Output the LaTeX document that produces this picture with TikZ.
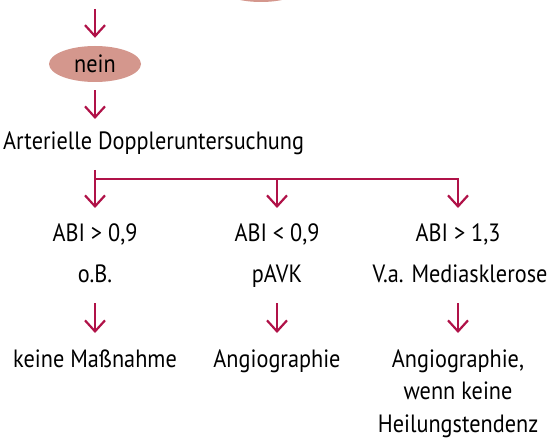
\documentclass[tikz,border=0pt]{standalone}
\usepackage{fontspec}
\setmainfont[FakeStretch=0.89]{PT Sans}
\usetikzlibrary{arrows.meta,shapes.geometric}

\definecolor{weinrot}{RGB}{176,18,72}
\definecolor{lachs}{RGB}{212,151,141}

\tikzset{
  oval/.style={ellipse, fill=lachs, minimum width=92pt, minimum height=36pt, inner sep=0pt},
  pfeil/.style={draw=weinrot, line width=2.2pt, -{Straight Barb[length=11pt, width=20pt]}},
  txt/.style={anchor=base, inner sep=0pt, font=\fontsize{25}{32.5}\selectfont}
}

\begin{document}
\begin{tikzpicture}[x=1pt, y=-1pt]
\useasboundingbox (0,0) rectangle (554,438);
\clip (0,0) rectangle (554,438);

\node [oval] (ja) at (261,-16) {};
\node [oval, font=\fontsize{25}{33}\selectfont] (nein) at (95,64) {nein};
\node [txt, anchor=base west] (doppler) at (3,150) {Arterielle Doppleruntersuchung};

\node [txt] (abi1) at (95,242) {ABI > 0,9};
\node [txt] (abi2) at (277,242) {ABI < 0,9};
\node [txt] (abi3) at (458,242) {ABI > 1,3};
\node [txt] (ob) at (95,283) {o.B.};
\node [txt] (pavk) at (277,283) {pAVK};
\node [txt] (media) at (460,283) {V.a. Mediasklerose};
\node [txt] (keine) at (95,367) {keine Maßnahme};
\node [txt] (angio) at (277,367) {Angiographie};
\node [txt, align=center] (angio2) at (458,432) {Angiographie,\\wenn keine\\Heilungstendenz};

\coordinate (s0) at (95,9);
\coordinate (s1) at (95,119);
\coordinate (b0) at (95,170);
\coordinate (b1) at (95,179);
\coordinate (b2) at (277,179);
\coordinate (b3) at (458,179);
\coordinate (t1) at (95,208);
\coordinate (t2) at (277,208);
\coordinate (t3) at (458,208);

\draw [pfeil, shorten >=8pt] (s0) -- (nein.north);
\draw [pfeil, shorten <=8pt] (nein.south) -- (s1);
\draw [pfeil] (b0) -- (t1);
\draw [pfeil] (b1) -- (b3) -- (t3);
\draw [pfeil] (b2) -- (t2);
\foreach \x/\n in {95/1,277/2,458/3} {
  \coordinate (u\n) at (\x,303);
  \coordinate (v\n) at (\x,333);
  \draw [pfeil] (u\n) -- (v\n);
}
\end{tikzpicture}
\end{document}
